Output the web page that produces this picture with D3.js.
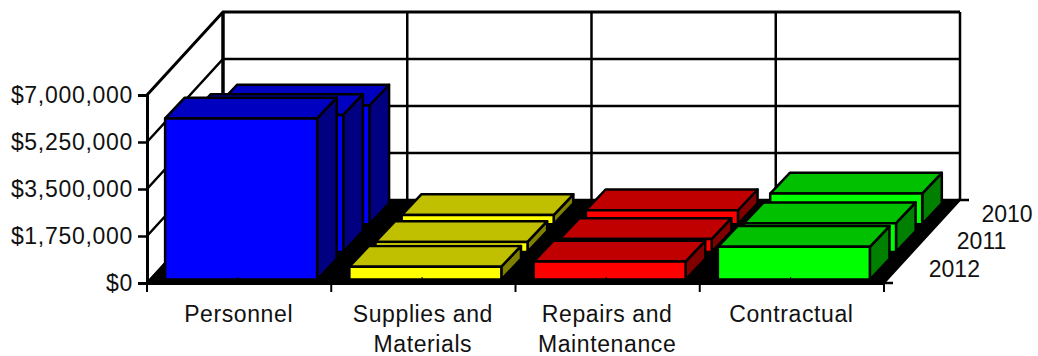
<!DOCTYPE html>
<html>
<head>
<meta charset="utf-8">
<script src="https://cdn.jsdelivr.net/npm/d3@7"></script>
<style>
  html, body { margin: 0; padding: 0; background: #fff; }
  text { font-family: "Liberation Sans", Arial, sans-serif; font-size: 23px; fill: #111; }
  .ylabel text { letter-spacing: 0.7px; }
  .xlabel { letter-spacing: 0.6px; }
</style>
</head>
<body>
<div id="chart"></div>
<script>
const categories = ['Personnel', 'Supplies and|Materials', 'Repairs and|Maintenance', 'Contractual'];
const years = ['2012', '2011', '2010'];
const values2012 = [6000000, 480000, 670000, 1220000];
const values2011 = [5100000, 370000, 480000, 1070000];
const values2010 = [4420000, 340000, 520000, 1140000];
const yTicks = [0, 1750000, 3500000, 5250000, 7000000];
const seriesValues = { 2012: values2012, 2011: values2011, 2010: values2010 };

// front, top, side shade of each category
const barColors = [
    ['#0000ff', '#0000c0', '#000080'],
    ['#ffff00', '#c0c000', '#808000'],
    ['#ff0000', '#c00000', '#800000'],
    ['#00ff00', '#00c000', '#008000']
];

const depthX = 76, depthY = -83;
const barDepthX = 78.5; // bars lean a little further than the walls

const svg = d3.select('#chart').append('svg')
    .attr('width', 1038)
    .attr('height', 356)
    .style('display', 'block');

const x = d3.scaleBand()
    .domain(categories)
    .range([147, 884])
    .paddingInner(0.175)
    .paddingOuter(0.0875)
    .align(0.46);

const y = d3.scaleLinear()
    .domain([0, 7000000])
    .range([283, 95]);

const z = d3.scaleBand()
    .domain(years)
    .range([0, 1])
    .paddingInner(0.25)
    .paddingOuter(0.125);

// front plane point pushed back by depth d (0..1)
const px = (xv, d) => xv + d * depthX;
const py = (yv, d) => yv + d * depthY;
const bx = (xv, d) => xv + d * barDepthX;
const pts = list => list.map(p => p.join(',')).join(' ');

const x0 = x.range()[0], x1 = x.range()[1];
const catStep = x.step();

// floor
svg.append('polygon')
    .attr('points', pts([[px(x0, 0), y(0)], [px(x0, 1), py(y(0), 1)], [px(x1, 1), py(y(0), 1)], [px(x1, 0), y(0)]]))
    .attr('fill', '#000')
    .attr('stroke', '#000')
    .attr('stroke-width', 2);

// walls: horizontal gridlines
yTicks.forEach(t => {
    svg.append('polyline')
        .attr('points', pts([[px(x0, 0), y(t)], [px(x0, 1), py(y(t), 1)], [px(x1, 1), py(y(t), 1)]]))
        .attr('fill', 'none')
        .attr('stroke', '#000')
        .attr('stroke-width', t === 7000000 ? 3 : 2.5);
});

// walls: vertical gridlines
d3.range(categories.length + 1).forEach(i => {
    svg.append('line')
        .attr('x1', px(x0 + i * catStep, 1))
        .attr('x2', px(x0 + i * catStep, 1))
        .attr('y1', py(y(7000000), 1))
        .attr('y2', py(y(0), 1))
        .attr('stroke', '#000')
        .attr('stroke-width', i === 0 ? 3.5 : 2.5);
});

// bars, back row first
years.slice().reverse().forEach(year => {
    categories.forEach((cat, i) => {
        const d0 = z(year), d1 = z(year) + z.bandwidth();
        const l = x(cat), r = x(cat) + x.bandwidth();
        const b = y(0), t = y(seriesValues[year][i]);
        const g = svg.append('g')
            .attr('stroke', '#000')
            .attr('stroke-width', 2.5)
            .attr('stroke-linejoin', 'round');
        g.append('polygon')
            .attr('points', pts([[bx(r, d0), py(b, d0)], [bx(r, d1), py(b, d1)], [bx(r, d1), py(t, d1)], [bx(r, d0), py(t, d0)]]))
            .attr('fill', barColors[i][2]);
        g.append('polygon')
            .attr('points', pts([[bx(l, d0), py(t, d0)], [bx(l, d1), py(t, d1)], [bx(r, d1), py(t, d1)], [bx(r, d0), py(t, d0)]]))
            .attr('fill', barColors[i][1]);
        g.append('polygon')
            .attr('points', pts([[bx(l, d0), py(b, d0)], [bx(l, d0), py(t, d0)], [bx(r, d0), py(t, d0)], [bx(r, d0), py(b, d0)]]))
            .attr('fill', barColors[i][0]);
    });
});

// y axis
const yAxis = svg.append('g')
    .attr('class', 'ylabel')
    .attr('transform', `translate(${x0},0)`)
    .call(d3.axisLeft(y)
        .tickValues(yTicks)
        .tickSize(9)
        .tickPadding(5)
        .tickFormat(d => '$' + d3.format(',')(d)));
yAxis.select('.domain').attr('stroke', '#000').attr('stroke-width', 3);
yAxis.selectAll('.tick line').attr('stroke', '#000').attr('stroke-width', 2.5);
yAxis.selectAll('text').attr('font-family', null).attr('font-size', null);

// category axis, labels wrapped on |
const xAxis = svg.append('g')
    .attr('transform', `translate(0,${y(0)})`)
    .call(d3.axisBottom(x).tickSize(-6).tickPadding(0).tickSizeOuter(0).tickFormat(''));
xAxis.select('.domain').attr('stroke', '#000').attr('stroke-width', 3);
xAxis.selectAll('.tick line').attr('stroke', '#000').attr('stroke-width', 1);
xAxis.selectAll('.tick text').remove();
d3.range(categories.length + 1).forEach(i => {
    xAxis.append('line')
        .attr('x1', x0 + i * catStep)
        .attr('x2', x0 + i * catStep)
        .attr('y1', 0)
        .attr('y2', 9)
        .attr('stroke', '#000')
        .attr('stroke-width', 2);
});
categories.forEach((cat, c) => {
    const label = svg.append('text')
        .attr('class', 'xlabel')
        .attr('text-anchor', 'middle')
        .attr('y', 322);
    cat.split('|').forEach((part, i) => {
        label.append('tspan')
            .attr('x', x0 + (c + 0.5) * catStep - 0.5)
            .attr('dy', i === 0 ? 0 : 30)
            .text(part);
    });
});

// depth axis on the right floor edge
const zAxis = svg.append('g');
[0, 1].forEach(d => {
    zAxis.append('line')
        .attr('x1', px(x1, d) - 2)
        .attr('x2', px(x1, d) + 9)
        .attr('y1', py(y(0), d))
        .attr('y2', py(y(0), d))
        .attr('stroke', '#000')
        .attr('stroke-width', 2.5);
});
years.forEach((year, i) => {
    const d = z(year) + z.bandwidth() / 2;
    zAxis.append('text')
        .attr('x', px(x1, d) + 83.3 + i)
        .attr('y', py(y(0), d) + 7.8)
        .attr('text-anchor', 'end')
        .text(year);
});
</script>
</body>
</html>
